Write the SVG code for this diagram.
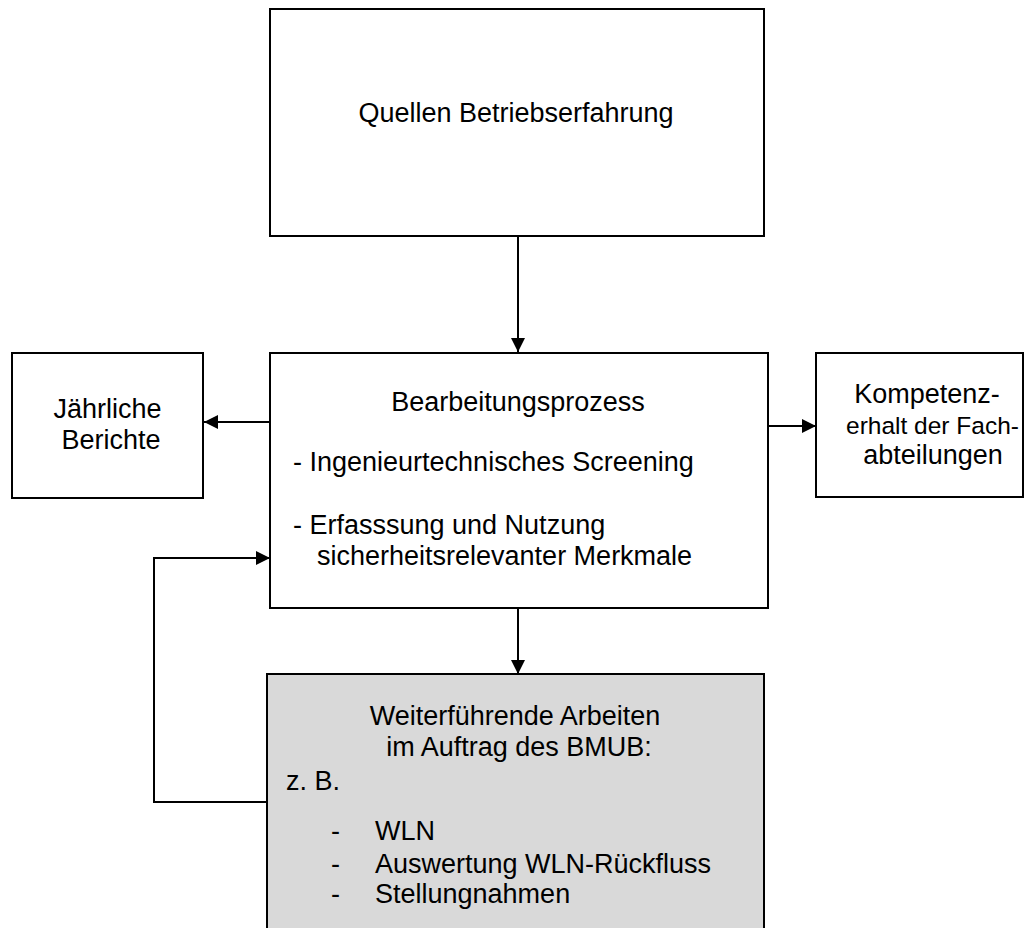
<svg xmlns="http://www.w3.org/2000/svg" width="1025" height="928" viewBox="0 0 1025 928">
<style>
.box{fill:#fff;stroke:#000;stroke-width:2}
.grey{fill:#d9d9d9;stroke:#000;stroke-width:2}
.t{font-family:"Liberation Sans",Arial,sans-serif;font-size:27px;fill:#000}
.c{text-anchor:middle}
.ln{fill:none;stroke:#000;stroke-width:2;marker-end:url(#ah)}
</style>
<defs>
<marker id="ah" markerUnits="userSpaceOnUse" markerWidth="14" markerHeight="14" refX="14" refY="7" orient="auto" viewBox="0 0 14 14">
<path d="M0,0 L14,7 L0,14 z" fill="#000"/>
</marker>
</defs>
<rect width="1025" height="928" fill="#fff"/>
<g id="connectors">
<path class="ln" d="M518,236 V352"/>
<path class="ln" d="M270,422 H204"/>
<path class="ln" d="M768,426 H816"/>
<path class="ln" d="M518,608 V674"/>
<path class="ln" d="M267,802 H154 V558 H270"/>
</g>
<g id="quellen">
<rect class="box" x="270" y="9" width="494" height="227"/>
<text class="t c" x="516" y="122">Quellen Betriebserfahrung</text>
</g>
<g id="jaehrliche">
<rect class="box" x="12" y="353" width="191" height="145"/>
<text class="t c" x="107.5" y="418">Jährliche</text>
<text class="t c" x="111" y="449">Berichte</text>
</g>
<g id="bearbeitung">
<rect class="box" x="270" y="353" width="498" height="255"/>
<text class="t c" x="518" y="411">Bearbeitungsprozess</text>
<text class="t" x="293" y="471">- Ingenieurtechnisches Screening</text>
<text class="t" x="293" y="534">- Erfasssung und Nutzung</text>
<text class="t" x="317" y="565">sicherheitsrelevanter Merkmale</text>
</g>
<g id="kompetenz">
<rect class="box" x="816" y="353" width="207" height="144"/>
<text class="t c" x="927" y="403">Kompetenz-</text>
<text class="t" x="846" y="434" style="font-size:24.5px">erhalt der Fach-</text>
<text class="t c" x="933" y="464">abteilungen</text>
</g>
<g id="weiterfuehrend">
<rect class="grey" x="267" y="674" width="497" height="270"/>
<text class="t c" x="515" y="725">Weiterführende Arbeiten</text>
<text class="t c" x="519" y="756">im Auftrag des BMUB:</text>
<text class="t" x="286" y="790">z. B.</text>
<text class="t" x="331" y="840">-</text>
<text class="t" x="375" y="840">WLN</text>
<text class="t" x="331" y="873">-</text>
<text class="t" x="375" y="873">Auswertung WLN-Rückfluss</text>
<text class="t" x="331" y="903">-</text>
<text class="t" x="375" y="903">Stellungnahmen</text>
</g>
</svg>
